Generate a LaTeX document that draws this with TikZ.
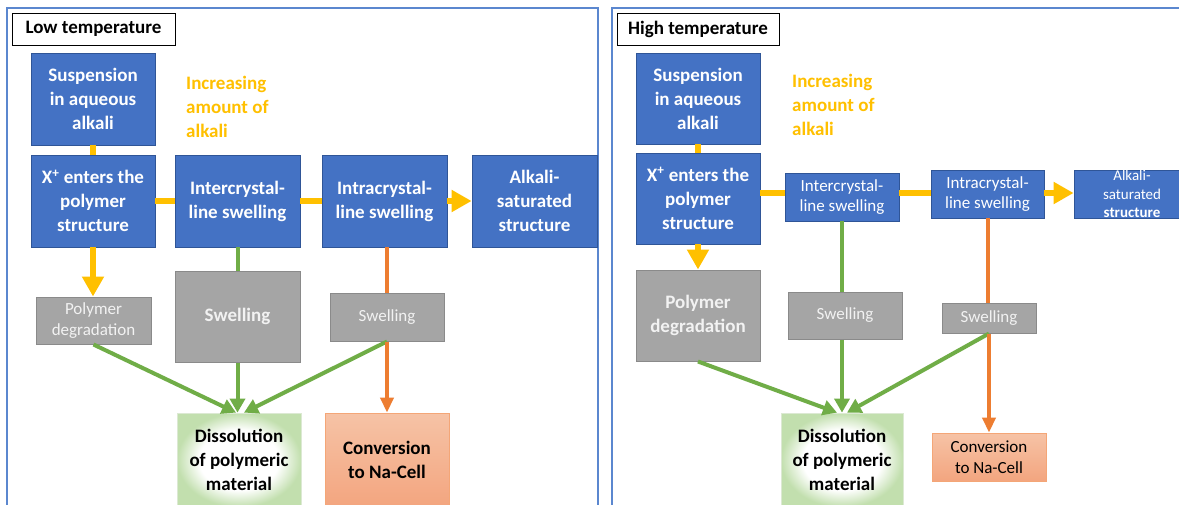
\documentclass[tikz,border=0pt]{standalone}
\usepackage{fontspec}
\setmainfont{Carlito}
\usetikzlibrary{arrows.meta,calc}
\definecolor{boxblue}{HTML}{4472C4}
\definecolor{boxblueedge}{HTML}{2F5597}
\definecolor{panelblue}{HTML}{5B87CF}
\definecolor{ayellow}{HTML}{FFC000}
\definecolor{agreen}{HTML}{70AD47}
\definecolor{aorange}{HTML}{ED7D31}
\definecolor{boxgray}{HTML}{A5A5A5}
\definecolor{grayedge}{HTML}{8A8A8A}
\definecolor{dissgreen}{HTML}{C2DFAE}
\definecolor{dissedge}{HTML}{DCE9D3}
\definecolor{convtop}{HTML}{F6C3A6}
\definecolor{convbot}{HTML}{F3A57F}
\definecolor{convedge}{HTML}{F4A677}
\pgfdeclareradialshading{glow}{\pgfpoint{0bp}{0bp}}{color(0bp)=(white); color(16bp)=(white); color(25bp)=(dissgreen); color(50bp)=(dissgreen)}
\tikzset{
  fbold/.style={font=\fontsize{19}{24}\selectfont\bfseries},
  fnorm/.style={font=\fontsize{17}{20.5}\selectfont},
  fsmall/.style={font=\fontsize{15}{18.5}\selectfont},
  box/.style={align=center, inner sep=0pt, minimum width=#1},
  bluebox/.style={box=#1, draw=boxblueedge, line width=0.8pt, fill=boxblue, text=white},
  graybox/.style={box=#1, draw=grayedge, line width=1pt, fill=boxgray, text=white!95!black},
  dissbox/.style={box=#1, draw=dissedge, line width=0.8pt, shading=glow, text=black},
  convbox/.style={box=#1, draw=convedge, line width=0.8pt, top color=convtop, bottom color=convbot, text=black},
  labelbox/.style={box=#1, draw=black, line width=0.9pt, fill=white, text=black},
  panel/.style={draw=panelblue, line width=1.8pt},
  yline/.style={draw=ayellow, line width=6.5pt},
  yarrow/.style={yline, -{Triangle[length=20pt,width=21pt]}},
  gline/.style={draw=agreen, line width=4pt},
  garrow/.style={gline, -{Triangle[length=14pt,width=15pt]}},
  oline/.style={draw=aorange, line width=4pt},
  oarrow/.style={oline, -{Triangle[length=15pt,width=13pt]}},
  inctext/.style={fbold, text=ayellow, align=left, anchor=west, inner sep=0pt},
}
\begin{document}
\begin{tikzpicture}[x=1pt,y=-1pt]
\useasboundingbox (0,0) rectangle (1179,504);
\path[clip] (0,0) rectangle (1179,504);
\fill[white] (0,0) rectangle (1179,504);

% panels
\draw[panel] (7,8) rectangle (598,520);
\draw[panel] (612,8) rectangle (1195,520);

% ---------------- Low temperature ----------------
\node[labelbox=163pt, minimum height=32pt, fbold] (lab1) at (93.5,29) {Low temperature};
\node[bluebox=124pt, minimum height=92pt, fbold] (sus1) at (93,99) {Suspension\\in aqueous\\alkali};
\node[bluebox=124pt, minimum height=92pt, fbold] (xp1) at (93,201) {X\textsuperscript{+} enters the\\polymer\\structure};
\node[bluebox=125pt, minimum height=92pt, fbold] (ic1) at (237.5,201) {Intercrystal-\\line swelling};
\node[bluebox=125pt, minimum height=92pt, fbold] (ia1) at (384.5,201) {Intracrystal-\\line swelling};
\node[bluebox=125pt, minimum height=92pt, fbold] (as1) at (534.5,201) {Alkali-\\saturated\\structure};
\node[inctext] (inc1) at (186,106.5) {Increasing\\amount of\\alkali};
\node[graybox=115pt, minimum height=47pt, fnorm] (pd1) at (93.5,320.5) {Polymer\\degradation};
\node[graybox=125pt, minimum height=91pt, fbold] (sw1) at (237.5,316.5) {Swelling};
\node[graybox=114pt, minimum height=48pt, fnorm] (ss1) at (387,317) {Swelling};
\node[dissbox=124pt, minimum height=94pt, fbold] (ds1) at (239,460) {Dissolution\\of polymeric\\material};
\node[convbox=124pt, minimum height=94pt, fbold] (cv1) at (387,460) {Conversion\\to Na-Cell};

\draw[yline] (sus1.south) -- (xp1.north);
\draw[yline] (xp1.east) -- (ic1.west);
\draw[yline] (ic1.east) -- (ia1.west);
\draw[yarrow] (ia1.east) -- (as1.west);
\draw[yarrow] (xp1.south) -- (pd1.north -| xp1.south);
\draw[gline] (ic1.south) -- (sw1.north);
\draw[oline] (ia1.south -| ss1.north) -- (ss1.north);
\draw[garrow] (pd1.south) -- ($(ds1.north)+(-3,0)$);
\draw[garrow] (sw1.south) -- (sw1.south |- ds1.north);
\draw[garrow] (ss1.south) -- ($(ds1.north)+(5,0)$);
\draw[oarrow] (ss1.south) -- (ss1.south |- cv1.north);

% ---------------- High temperature ----------------
\node[labelbox=162pt, minimum height=32pt, fbold] (lab2) at (698,29) {High temperature};
\node[bluebox=124pt, minimum height=91pt, fbold] (sus2) at (698,98.5) {Suspension\\in aqueous\\alkali};
\node[bluebox=124pt, minimum height=91pt, fbold] (xp2) at (698,198.5) {X\textsuperscript{+} enters the\\polymer\\structure};
\node[bluebox=114pt, minimum height=48pt, fnorm] (ic2) at (842,197) {Intercrystal-\\line swelling};
\node[bluebox=113pt, minimum height=48pt, fnorm] (ia2) at (987.5,194) {Intracrystal-\\line swelling};
\node[bluebox=116pt, minimum height=48pt, fsmall] (as2) at (1132,194) {Alkali-\\saturated\\\textbf{structure}};
\node[inctext] (inc2) at (792,105) {Increasing\\amount of\\alkali};
\node[graybox=124pt, minimum height=91pt, fbold] (pd2) at (698,315.5) {Polymer\\degradation};
\node[graybox=114pt, minimum height=47pt, fnorm] (sw2) at (845,315.5) {Swelling};
\node[graybox=94pt, minimum height=30pt, fnorm] (ss2) at (989,318) {Swelling};
\node[dissbox=122pt, minimum height=94pt, fbold] (ds2) at (842,460) {Dissolution\\of polymeric\\material};
\node[convbox=114pt, minimum height=48pt, fnorm] (cv2) at (989,457) {Conversion\\to Na-Cell};

\coordinate (ylev) at (0,193);
\draw[yline] (sus2.south) -- (xp2.north);
\draw[yline] (xp2.east |- ylev) -- (ic2.west |- ylev);
\draw[yline] (ic2.east |- ylev) -- (ia2.west |- ylev);
\draw[yarrow] (ia2.east |- ylev) -- (as2.west |- ylev);
\draw[yarrow] (xp2.south) -- (pd2.north);
\draw[gline] (ic2.south) -- (ic2.south |- sw2.north);
\draw[oline] (ia2.south) -- (ia2.south |- ss2.north);
\draw[garrow] (pd2.south) -- ($(ds2.north)+(-5,0)$);
\draw[garrow] (ic2.south |- sw2.south) -- (ic2.south |- ds2.north);
\draw[garrow] (ss2.south) -- ($(ds2.north)+(5,0)$);
\draw[oarrow] (ss2.south) -- (ss2.south |- cv2.north);
\end{tikzpicture}
\end{document}
